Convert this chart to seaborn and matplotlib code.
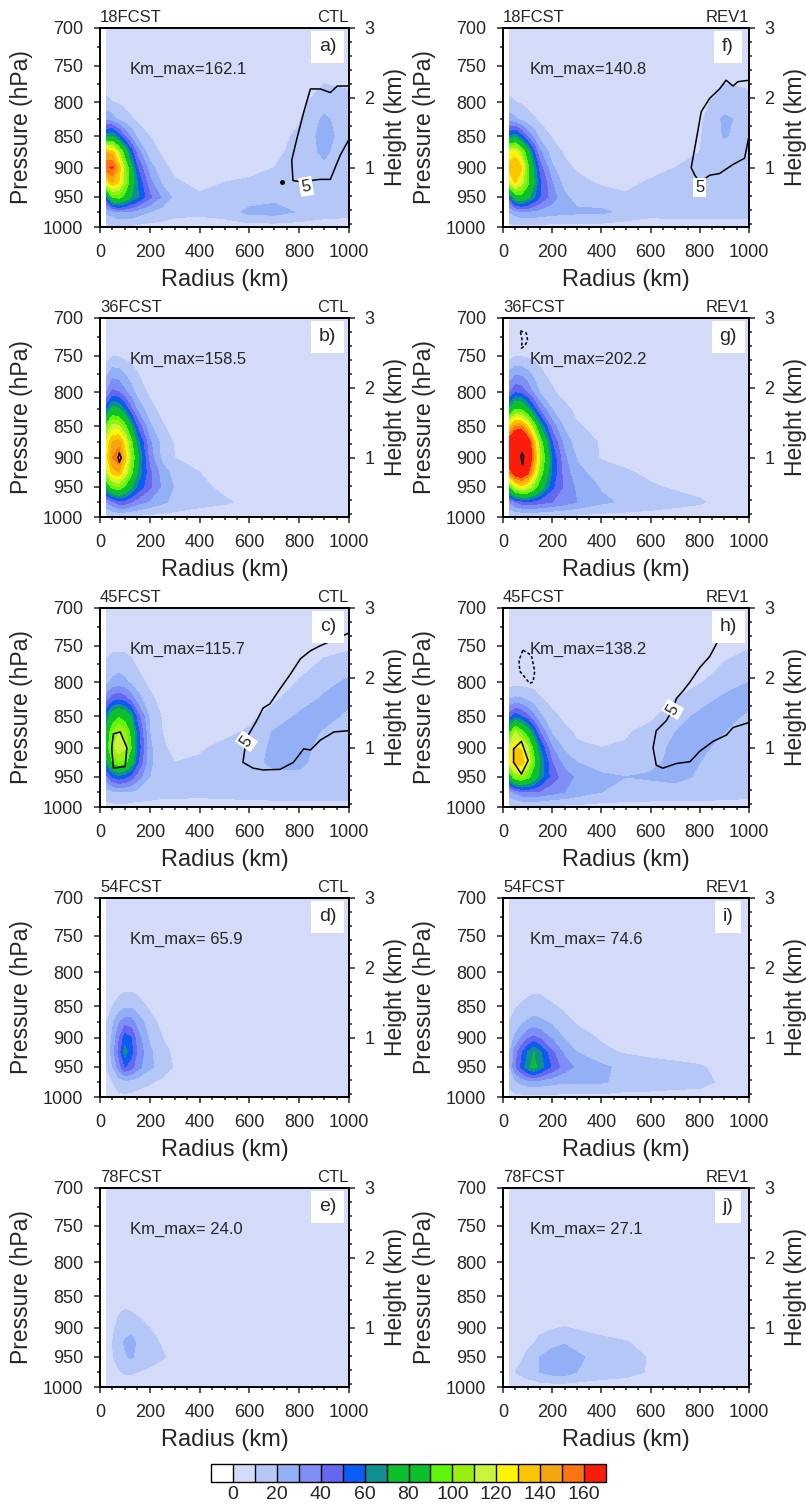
import numpy as np
import matplotlib
matplotlib.use('Agg')
import matplotlib.pyplot as plt
from matplotlib.colors import ListedColormap, BoundaryNorm
from matplotlib.ticker import MultipleLocator
import seaborn as sns

sns.set_theme(style='ticks')
plt.rcParams['font.family'] = ['Liberation Sans', 'DejaVu Sans']

# grid of the azimuthal mean (radius x pressure)
radius_km = [25, 50, 75, 100, 125, 150, 200, 250, 300, 400, 500, 600, 700, 800, 900, 1000]
pressure_hpa = [700, 750, 800, 825, 850, 875, 900, 925, 950, 975, 1000]

# pressure labels and the height (km) they sit at on the right axis
p_ticks = [700, 750, 800, 850, 900, 950, 1000]
z_ticks = [3.0, 2.46, 1.94, 1.45, 1.0, 0.58, 0.15]
p_minor = [725, 775, 825, 875, 925, 975]

fcst_labels = ['18FCST', '36FCST', '45FCST', '54FCST', '78FCST']
run_labels = ['CTL', 'REV1']
panel_letters = [['a)', 'b)', 'c)', 'd)', 'e)'], ['f)', 'g)', 'h)', 'i)', 'j)']]
km_max_ctl = ['162.1', '158.5', '115.7', ' 65.9', ' 24.0']
km_max_rev = ['140.8', '202.2', '138.2', ' 74.6', ' 27.1']

km_levels = list(range(0, 170, 10))
km_colors = ['#ffffff', '#d3dbf8', '#b5c7f6', '#93aff6', '#7f8ef5', '#6567ee',
             '#0b5cf5', '#0f8f8f', '#0cbf2c', '#0bc02b', '#60f50d', '#99f00f',
             '#c6f53c', '#fff500', '#fcc400', '#f5a412', '#fa740f', '#fa1e0a']

# Km fields, rows = pressure_hpa, columns = radius_km
km_ctl_18 = [
    [5, 5, 5, 5, 5, 5, 5, 5, 5, 5, 5, 5, 5, 5, 5, 5],
    [5, 5, 5, 5, 5, 5, 5, 5, 5, 5, 5, 5, 5, 5, 6, 6],
    [11, 10, 9, 7, 6, 5, 5, 5, 5, 5, 5, 5, 5, 8, 14, 12],
    [28, 24, 18, 14, 11, 8, 6, 5, 5, 5, 5, 5, 5, 9, 22, 14],
    [65, 70, 55, 40, 28, 18, 10, 7, 5, 5, 5, 5, 6, 12, 24, 14],
    [140, 135, 110, 80, 55, 35, 13, 9, 6, 5, 5, 5, 7, 14, 22, 13],
    [158, 162, 140, 105, 75, 50, 25, 12, 8, 6, 5, 6, 10, 14, 18, 12],
    [125, 140, 130, 105, 80, 60, 33, 18, 11, 8, 10, 12, 13, 13, 14, 12],
    [55, 90, 95, 85, 70, 62, 42, 28, 17, 11, 12, 14, 17, 16, 14, 13],
    [22, 25, 30, 30, 28, 25, 20, 16, 13, 12, 14, 23, 24, 19, 14, 13],
    [8, 8, 8, 8, 8, 7, 6, 6, 5, 5, 5, 5, 5, 5, 5, 5],
]
km_ctl_36 = [
    [5, 5, 5, 5, 5, 5, 5, 5, 5, 5, 5, 5, 5, 5, 5, 5],
    [5, 9, 9, 7, 6, 5, 5, 5, 5, 5, 5, 5, 5, 5, 5, 5],
    [30, 42, 40, 32, 24, 16, 8, 5, 5, 5, 5, 5, 5, 5, 5, 5],
    [55, 75, 72, 58, 42, 28, 13, 7, 5, 5, 5, 5, 5, 5, 5, 5],
    [95, 115, 112, 95, 72, 48, 22, 11, 6, 5, 5, 5, 5, 5, 5, 5],
    [120, 140, 145, 125, 95, 65, 32, 16, 9, 6, 5, 5, 5, 5, 5, 5],
    [125, 150, 158, 135, 105, 75, 35, 17, 10, 6, 5, 5, 5, 5, 5, 5],
    [110, 135, 140, 120, 95, 70, 42, 25, 16, 10, 6, 5, 5, 5, 5, 5],
    [75, 95, 100, 88, 72, 58, 42, 28, 19, 12, 8, 5, 5, 5, 5, 5],
    [28, 38, 45, 45, 40, 35, 28, 22, 17, 13, 11, 8, 9, 7, 5, 5],
    [7, 8, 8, 8, 7, 7, 6, 6, 6, 5, 5, 5, 5, 5, 5, 5],
]
km_ctl_45 = [
    [5, 5, 5, 5, 5, 5, 5, 5, 5, 5, 5, 5, 5, 5, 5, 5],
    [6, 7, 7, 7, 6, 5, 5, 5, 5, 5, 5, 5, 5, 5, 7, 8],
    [17, 22, 24, 22, 18, 13, 8, 5, 5, 5, 5, 5, 6, 10.5, 16, 22],
    [35, 45, 48, 44, 36, 25, 12, 7, 5, 5, 5, 6, 9, 14, 22, 22],
    [60, 80, 88, 82, 68, 45, 18, 9, 6, 5, 5, 8, 13, 22, 23, 18],
    [75, 100, 110, 105, 85, 55, 20, 10, 7, 6, 8, 11, 21, 24, 19, 14],
    [80, 108, 116, 112, 90, 58, 22, 11, 8, 9, 12, 15, 22, 23, 17, 13],
    [65, 90, 100, 95, 78, 52, 22, 13, 10, 11, 12, 17, 22, 22, 16, 13],
    [35, 50, 55, 52, 45, 35, 20, 14, 12, 12, 13, 16, 18, 18, 17, 17],
    [15, 18, 20, 20, 19, 17, 15, 13, 13, 13, 14, 15, 16, 16, 16, 16],
    [7, 7, 7, 7, 6, 6, 6, 6, 6, 5, 5, 5, 5, 5, 5, 5],
]
km_ctl_54 = [
    [5, 5, 5, 5, 5, 5, 5, 5, 5, 5, 5, 5, 5, 5, 5, 5],
    [5, 5, 5, 5, 5, 5, 5, 5, 5, 5, 5, 5, 5, 5, 5, 5],
    [5, 5, 5, 5, 5, 5, 5, 5, 5, 5, 5, 5, 5, 5, 5, 5],
    [5, 6, 7, 8, 8, 7, 5, 5, 5, 5, 5, 5, 5, 5, 5, 5],
    [7, 10, 14, 18, 18, 15, 8, 5, 5, 5, 5, 5, 5, 5, 5, 5],
    [9, 18, 28, 35, 34, 26, 14, 7, 5, 5, 5, 5, 5, 5, 5, 5],
    [10, 22, 38, 55, 50, 35, 18, 10, 6, 5, 5, 5, 5, 5, 5, 5],
    [11, 24, 42, 64, 54, 38, 22, 13, 8, 5, 5, 5, 5, 5, 5, 5],
    [10, 20, 34, 50, 44, 34, 22, 15, 9, 5, 5, 5, 5, 5, 5, 5],
    [7, 10, 14, 16, 16, 14, 11, 8, 6, 5, 5, 5, 5, 5, 5, 5],
    [5, 6, 8, 8, 7, 6, 5, 5, 5, 5, 5, 5, 5, 5, 5, 5],
]
km_ctl_78 = [
    [5, 5, 5, 5, 5, 5, 5, 5, 5, 5, 5, 5, 5, 5, 5, 5],
    [5, 5, 5, 5, 5, 5, 5, 5, 5, 5, 5, 5, 5, 5, 5, 5],
    [5, 5, 5, 5, 5, 5, 5, 5, 5, 5, 5, 5, 5, 5, 5, 5],
    [5, 5, 5, 5, 5, 5, 5, 5, 5, 5, 5, 5, 5, 5, 5, 5],
    [5, 5, 5, 5, 5, 5, 5, 5, 5, 5, 5, 5, 5, 5, 5, 5],
    [5, 6, 9, 11, 10, 8, 5, 5, 5, 5, 5, 5, 5, 5, 5, 5],
    [5, 8, 13, 16, 17, 15, 10, 6, 5, 5, 5, 5, 5, 5, 5, 5],
    [6, 10, 16, 21, 23, 19, 13, 9, 5, 5, 5, 5, 5, 5, 5, 5],
    [6, 9, 15, 19, 21, 18, 14, 11, 7, 5, 5, 5, 5, 5, 5, 5],
    [5, 7, 9, 11, 11, 10, 8, 6, 5, 5, 5, 5, 5, 5, 5, 5],
    [5, 5, 5, 5, 5, 5, 5, 5, 5, 5, 5, 5, 5, 5, 5, 5],
]
km_rev_18 = [
    [5, 5, 5, 5, 5, 5, 5, 5, 5, 5, 5, 5, 5, 5, 5, 5],
    [5, 5, 5, 5, 5, 5, 5, 5, 5, 5, 5, 5, 5, 5, 6, 6],
    [11, 10, 9, 7, 6, 5, 5, 5, 5, 5, 5, 5, 5, 7, 14, 12],
    [25, 22, 17, 13, 11, 8, 6, 5, 5, 5, 5, 5, 5, 8, 22, 16],
    [60, 65, 52, 38, 27, 17, 9, 6, 5, 5, 5, 5, 6, 9, 21, 14],
    [120, 125, 105, 78, 52, 32, 14, 9, 6, 5, 5, 5, 7, 10, 13, 12],
    [135, 140, 132, 95, 68, 45, 22, 12, 9, 6, 5, 7, 10, 12, 11, 12],
    [110, 132, 115, 95, 72, 52, 30, 16, 12, 9, 8, 11, 13, 13, 12, 13],
    [50, 80, 85, 75, 62, 50, 35, 22, 16, 13, 11, 13, 14, 14, 14, 15],
    [20, 24, 28, 28, 27, 26, 24, 23, 22, 22, 17, 13, 14, 14, 14, 14],
    [7, 7, 7, 7, 7, 7, 6, 6, 6, 6, 5, 5, 5, 5, 5, 5],
]
km_rev_36 = [
    [5, 5, 5, 5, 5, 5, 5, 5, 5, 5, 5, 5, 5, 5, 5, 5],
    [6, 9, 9, 8, 7, 6, 5, 5, 5, 5, 5, 5, 5, 5, 5, 5],
    [38, 48, 46, 38, 28, 19, 11, 7, 5, 5, 5, 5, 5, 5, 5, 5],
    [70, 90, 88, 72, 55, 38, 20, 12, 8, 5, 5, 5, 5, 5, 5, 5],
    [130, 150, 150, 130, 100, 70, 35, 18, 11, 7, 5, 5, 5, 5, 5, 5],
    [170, 190, 195, 175, 140, 100, 50, 26, 15, 9, 6, 5, 5, 5, 5, 5],
    [175, 198, 202, 185, 150, 110, 58, 32, 19, 9, 7, 6, 5, 5, 5, 5],
    [150, 175, 180, 165, 135, 100, 58, 35, 23, 15, 11, 8, 6, 5, 5, 5],
    [85, 115, 125, 118, 100, 80, 52, 38, 28, 19, 14, 11, 9, 7, 5, 5],
    [30, 40, 45, 48, 46, 44, 40, 35, 30, 22, 18, 15, 13, 11, 7, 5],
    [8, 8, 8, 8, 8, 8, 7, 7, 7, 6, 6, 6, 5, 5, 5, 5],
]
km_rev_45 = [
    [5, 5, 5, 5, 5, 5, 5, 5, 5, 5, 5, 5, 5, 5, 5, 5],
    [5, 5, 5, 5, 5, 5, 5, 5, 5, 5, 5, 5, 5, 5, 6, 9],
    [5, 6, 6, 6, 6, 5, 5, 5, 5, 5, 5, 5, 6, 9, 15, 20],
    [20, 22, 21, 18, 15, 11, 7, 5, 5, 5, 5, 6, 10, 16, 22, 22],
    [45, 55, 50, 42, 32, 22, 12, 8, 6, 5, 6, 8, 16, 22, 22, 19],
    [85, 110, 95, 80, 60, 40, 18, 12, 9, 7, 9, 13, 20, 23, 20, 15],
    [115, 130, 128, 112, 85, 60, 30, 18, 11, 10, 11, 16, 22, 22, 17, 13],
    [120, 136, 138, 120, 95, 70, 40, 26, 20, 15, 14, 18, 22, 20, 15, 13],
    [75, 100, 105, 95, 80, 65, 45, 35, 28, 22, 20, 21, 22, 19, 15, 14],
    [25, 32, 38, 40, 40, 38, 34, 30, 26, 20, 17, 16, 17, 17, 15, 14],
    [8, 8, 8, 8, 8, 8, 7, 7, 7, 6, 6, 6, 5, 5, 5, 5],
]
km_rev_54 = [
    [5, 5, 5, 5, 5, 5, 5, 5, 5, 5, 5, 5, 5, 5, 5, 5],
    [5, 5, 5, 5, 5, 5, 5, 5, 5, 5, 5, 5, 5, 5, 5, 5],
    [5, 5, 5, 5, 5, 5, 5, 5, 5, 5, 5, 5, 5, 5, 5, 5],
    [5, 5, 6, 7, 8, 8, 6, 5, 5, 5, 5, 5, 5, 5, 5, 5],
    [7, 9, 11, 13, 15, 14, 11, 8, 6, 5, 5, 5, 5, 5, 5, 5],
    [10, 14, 18, 21, 23, 22, 18, 13, 9, 6, 5, 5, 5, 5, 5, 5],
    [14, 22, 30, 38, 42, 38, 28, 19, 14, 9, 7, 5, 5, 5, 5, 5],
    [18, 35, 48, 60, 70, 62, 42, 28, 20, 12, 9, 8, 7, 5, 5, 5],
    [18, 38, 52, 66, 74, 65, 48, 35, 28, 22, 17, 13, 12, 11, 7, 5],
    [12, 18, 22, 25, 26, 25, 23, 21, 22, 21, 17, 16, 14, 13, 8, 5],
    [7, 7, 7, 7, 7, 7, 7, 7, 7, 7, 6, 6, 6, 6, 5, 5],
]
km_rev_78 = [
    [5, 5, 5, 5, 5, 5, 5, 5, 5, 5, 5, 5, 5, 5, 5, 5],
    [5, 5, 5, 5, 5, 5, 5, 5, 5, 5, 5, 5, 5, 5, 5, 5],
    [5, 5, 5, 5, 5, 5, 5, 5, 5, 5, 5, 5, 5, 5, 5, 5],
    [5, 5, 5, 5, 5, 5, 5, 5, 5, 5, 5, 5, 5, 5, 5, 5],
    [5, 5, 5, 5, 5, 5, 5, 5, 5, 5, 5, 5, 5, 5, 5, 5],
    [5, 5, 5, 5, 5, 5, 5, 5, 5, 5, 5, 5, 5, 5, 5, 5],
    [5, 5, 5, 6, 7, 8, 9, 10.5, 9, 6, 5, 5, 5, 5, 5, 5],
    [5, 6, 7, 8, 9.5, 12, 17, 19, 16, 13, 10.5, 7, 5, 5, 5, 5],
    [6, 8, 9, 12, 15, 20, 24, 26, 22, 16, 14, 9, 6, 5, 5, 5],
    [7, 10, 12, 14, 16, 20, 24, 25, 20, 15, 13, 9, 6, 5, 5, 5],
    [5, 5, 5, 5, 5, 5, 5, 5, 5, 5, 5, 5, 5, 5, 5, 5],
]

# black overlay contours, (radius km, pressure hPa)
line5_ctl_18 = [(1000, 855), (965, 880), (925, 920), (885, 920), (805, 924), (775, 922),
                (770, 888), (790, 855), (818, 815), (845, 782), (885, 782), (925, 787),
                (953, 778), (1000, 778)]
line5_ctl_45 = [(1000, 733), (940, 742), (885, 750), (845, 757), (805, 768), (763, 790),
                (723, 810), (682, 832), (655, 838), (628, 858), (588, 885), (574, 925),
                (615, 935), (655, 938), (723, 937), (777, 925), (818, 902), (845, 904),
                (885, 888), (940, 875), (1000, 873)]
line5_rev_18 = [(1000, 850), (982, 885), (935, 895), (880, 910), (840, 913), (800, 925),
                (780, 913), (765, 900), (780, 868), (806, 814), (840, 795), (880, 782),
                (907, 770), (935, 778), (955, 772), (1000, 770)]
line5_rev_45 = [(880, 740), (840, 765), (800, 780), (760, 800), (732, 813), (705, 824),
                (690, 840), (664, 857), (623, 873), (610, 900), (623, 930), (650, 935),
                (705, 927), (760, 924), (800, 906), (854, 890), (908, 880), (935, 868),
                (1000, 860)]
core_ctl_36 = [(78, 893), (85, 900), (78, 908), (72, 900), (78, 893)]
core_ctl_45 = [(47, 900), (54, 878), (81, 875), (108, 900), (101, 932), (54, 935), (47, 900)]
core_rev_36 = [(77, 892), (84, 898), (79, 912), (73, 898), (77, 892)]
core_rev_45 = [(43, 902), (75, 890), (102, 922), (75, 945), (43, 925), (43, 902)]
dash_rev_36 = [(70, 717), (95, 720), (100, 730), (88, 737), (75, 740), (78, 730), (70, 717)]
dash_rev_45 = [(81, 756), (115, 763), (129, 785), (122, 800), (108, 802), (88, 793),
               (68, 785), (65, 770), (81, 756)]
dot_ctl_18 = (730, 925)
label5_pos = {(0, 0): (828, 932, 10), (0, 2): (588, 890, 55),
              (1, 0): (800, 933, 0), (1, 2): (690, 840, 60)}

fields = [[km_ctl_18, km_ctl_36, km_ctl_45, km_ctl_54, km_ctl_78],
          [km_rev_18, km_rev_36, km_rev_45, km_rev_54, km_rev_78]]
km_max = [km_max_ctl, km_max_rev]
big_lines = {(0, 0): line5_ctl_18, (0, 2): line5_ctl_45, (1, 0): line5_rev_18,
             (1, 2): line5_rev_45}
extra_solid = {(0, 2): [core_ctl_45], (1, 2): [core_rev_45], (0, 1): [core_ctl_36],
               (1, 1): [core_rev_36]}
dashed_lines = {(1, 1): [dash_rev_36], (1, 2): [dash_rev_45]}


def to_z(p):
    return np.interp(p, p_ticks, z_ticks)


def draw_path(ax, pts, **kw):
    r = [q[0] for q in pts]
    z = to_z([q[1] for q in pts])
    ax.plot(r, z, color='black', lw=1.1, zorder=4, **kw)


km_cmap = ListedColormap(km_colors[1:-1])
km_cmap.set_under(km_colors[0])
km_cmap.set_over(km_colors[-1])
km_norm = BoundaryNorm(km_levels, km_cmap.N)
z_nodes = to_z(pressure_hpa)

fig = plt.figure(figsize=(8.06, 15.08), dpi=100)
W, H = 806, 1508
col_left = [100, 503]
col_width = [249, 246]
row_top = [28, 318, 608, 898, 1188]
ax_h = 199

cs = None
for c in range(2):
    for r in range(5):
        ax = fig.add_axes([col_left[c] / W, 1 - (row_top[r] + ax_h) / H,
                           col_width[c] / W, ax_h / H])
        ax.set_facecolor('white')
        cs = ax.contourf(radius_km, z_nodes, np.array(fields[c][r], dtype=float),
                         levels=km_levels, cmap=km_cmap, norm=km_norm, extend='both')

        if (c, r) in big_lines:
            draw_path(ax, big_lines[(c, r)])
            lr, lp, rot = label5_pos[(c, r)]
            ax.text(lr, to_z(lp), '5', ha='center', va='center', fontsize=12,
                    rotation=rot, zorder=6,
                    bbox=dict(facecolor='white', edgecolor='none', boxstyle='square,pad=0.12'))
        for pts in extra_solid.get((c, r), []):
            draw_path(ax, pts)
        for pts in dashed_lines.get((c, r), []):
            draw_path(ax, pts, ls=(0, (2, 1.5)))
        if (c, r) == (0, 0):
            ax.plot(dot_ctl_18[0], to_z(dot_ctl_18[1]), 'o', color='black', ms=2.5, zorder=4)

        ax.set_xlim(0, 1000)
        ax.set_ylim(z_ticks[-1], z_ticks[0])
        ax.set_xticks(range(0, 1001, 200))
        ax.xaxis.set_minor_locator(MultipleLocator(50))
        ax.set_yticks(z_ticks)
        ax.set_yticklabels([str(p) for p in p_ticks])
        ax.set_yticks(to_z(p_minor), minor=True)
        ax.tick_params(which='both', direction='out', width=1.1, labelsize=13,
                       top=False, right=False)
        ax.tick_params(which='major', length=4, pad=8)
        ax.tick_params(which='minor', length=2.5)
        for s in ax.spines.values():
            s.set_linewidth(1.2)
            s.set_color('black')
        ax.set_xlabel('Radius (km)', fontsize=17, labelpad=6)
        ax.set_ylabel('Pressure (hPa)', fontsize=16.5, labelpad=7)
        ax.set_title(fcst_labels[r], loc='left', fontsize=12, pad=4)
        ax.set_title(run_labels[c], loc='right', fontsize=12, pad=4)
        ax.text(0.12 if c == 0 else 0.11, 0.79, 'Km_max=' + km_max[c][r],
                transform=ax.transAxes, fontsize=12, va='center', zorder=6)
        ax.text(0.915, 0.905, panel_letters[c][r], transform=ax.transAxes,
                ha='center', va='center', fontsize=14, zorder=6,
                bbox=dict(facecolor='white', edgecolor='none', boxstyle='square,pad=0.4'))

        ax2 = ax.twinx()
        ax2.set_ylim(ax.get_ylim())
        ax2.set_yticks([1, 2, 3])
        ax2.yaxis.set_minor_locator(MultipleLocator(0.2))
        ax2.tick_params(which='both', direction='out', width=1.1, labelsize=13)
        ax2.tick_params(which='major', length=4, pad=7)
        ax2.tick_params(which='minor', length=2.5)
        ax2.set_ylabel('Height (km)', fontsize=16.5, labelpad=7)
        for s in ax2.spines.values():
            s.set_linewidth(1.2)
            s.set_color('black')

cax = fig.add_axes([211 / W, 1 - 1482 / H, 395 / W, 18 / H])
cb = fig.colorbar(cs, cax=cax, orientation='horizontal', ticks=list(range(0, 161, 20)),
                  extendrect=True, extendfrac=1 / 16, drawedges=True)
cb.ax.minorticks_off()
cb.ax.tick_params(length=0, labelsize=14, pad=3)
cb.outline.set_linewidth(1.0)
cb.outline.set_edgecolor('black')
cb.dividers.set_color('black')
cb.dividers.set_linewidth(1.0)

fig.savefig('out.png', dpi=100)
